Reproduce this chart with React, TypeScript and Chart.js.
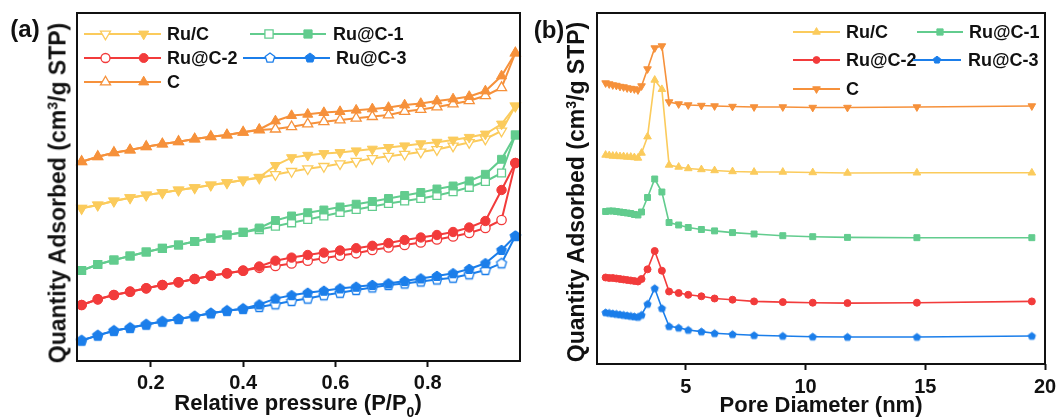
import React, { useEffect, useRef } from 'react';
import { Chart, registerables } from 'chart.js';

Chart.register(...registerables);

// ---------- Panel (a): N2 isotherms ----------
const PRESSURE = [0.05, 0.085, 0.12, 0.155, 0.19, 0.225, 0.26, 0.295, 0.33, 0.365, 0.40, 0.435, 0.47, 0.505, 0.54, 0.575, 0.61, 0.645, 0.68, 0.715, 0.75, 0.785, 0.82, 0.855, 0.89, 0.925, 0.96, 0.99];
const TICKS_A = [0.2, 0.4, 0.6, 0.8];

const C_ADS = [199.3, 204.3, 208.3, 211, 214.3, 217, 219.3, 222, 224.3, 226, 228.7, 231, 231.9, 234.2, 237, 239.3, 241, 242.7, 244.4, 246, 249.5, 251.5, 254, 257, 260.3, 265.3, 273.3, 308];
const C_DES = [199.3, 204.3, 208.3, 211, 214.3, 217, 219.3, 222, 224.3, 226, 228.7, 231.5, 240, 245.4, 246.7, 248.4, 249.4, 250.8, 252.1, 253.5, 256, 257.5, 260, 262, 264.5, 270, 285, 308];
const RUC_ADS = [152.7, 156, 160, 163.3, 166, 168.3, 171, 173.3, 176, 178.3, 181, 183.1, 186.5, 189.6, 192.3, 194.6, 197.3, 199.7, 202.4, 204.8, 206.8, 209, 211.4, 215, 218.5, 222, 230, 255];
const RUC_DES = [152.7, 156, 160, 163.3, 166, 168.3, 171, 173.3, 176, 178.3, 181, 183.8, 195.6, 203.4, 205.8, 207.5, 208.5, 210.2, 211.9, 213.6, 215.2, 217.3, 218.8, 221, 223.7, 227, 237, 255];
const RUC1_ADS = [90.5, 96.5, 101, 105, 109, 112.7, 116, 119.5, 122.8, 126, 128.7, 131.4, 134.8, 138.2, 141.6, 145, 148.5, 151.5, 154.5, 157.5, 160, 162.5, 165.5, 169.3, 173.7, 179.5, 188, 226];
const RUC1_DES = [90.5, 96.5, 101, 105, 109, 112.7, 116, 119.5, 122.8, 126, 128.7, 133, 140.5, 145, 148.3, 151, 154, 156.8, 159.5, 162.5, 165.5, 168.5, 172, 175, 180, 186.7, 201.7, 226];
const RUC2_ADS = [56, 61.7, 66, 69.3, 72.7, 76, 78.7, 82, 85.3, 87.7, 90.3, 93.2, 95, 97.6, 100.3, 102.7, 105.4, 107.7, 111.1, 113.5, 116, 118.5, 121.5, 124.5, 128, 133, 141, 198];
const RUC2_DES = [56, 61.7, 66, 69.3, 72.7, 76, 78.7, 82, 85.3, 87.7, 90.3, 94.5, 100.3, 103.4, 106, 108.4, 110.5, 112.8, 115.2, 117.9, 121, 123.5, 126, 129, 133.5, 140, 171, 198];
const RUC3_ADS = [20.5, 25.6, 30.3, 33.2, 36.5, 39.5, 42, 44.8, 47.8, 50.3, 52.2, 54, 56.7, 60, 62.4, 65.8, 68.2, 71, 73.6, 76, 77.5, 79.5, 81.5, 83.3, 86.7, 91, 97.7, 125];
const RUC3_DES = [20.5, 25.6, 30.3, 33.2, 36.5, 39.5, 42, 44.8, 47.8, 50.3, 52.2, 56.5, 62.4, 65.8, 68.2, 70.2, 72.5, 74.2, 76, 77.6, 80, 82.5, 85, 87.7, 92, 97.7, 111, 125];

// ---------- Panel (b): pore size distribution ----------
const DIAMETER = [1.65, 1.8, 1.95, 2.1, 2.25, 2.4, 2.55, 2.7, 2.85, 3.0, 3.15, 3.4, 3.7, 4.0, 4.3, 4.7, 5.1, 5.65, 6.2, 6.95, 7.85, 9.05, 10.3, 11.75, 14.65, 19.45];
const TICKS_B = [5, 10, 15, 20];

const PSD_C = [281, 280, 279, 278.5, 277.5, 277, 276, 275.5, 275, 274, 278, 295, 316, 318, 262, 260, 259, 258.5, 258, 257.5, 257, 257, 256.5, 256.5, 257, 258];
const PSD_RUC = [209, 208.5, 208, 208, 207.5, 207.5, 207, 207, 206.5, 206, 211, 227.3, 284, 274.7, 199, 197, 195.5, 194.5, 193.5, 192.5, 192, 192, 191.5, 191, 191.2, 191.2];
const PSD_RUC1 = [152.5, 153, 153, 152.5, 152, 151.5, 151, 150.5, 149.5, 149, 152, 166.5, 185, 172, 141.5, 139, 136.5, 134.5, 133.1, 131.4, 130, 128.3, 127.3, 126.6, 126.3, 126.3];
const PSD_RUC2 = [86.5, 86, 86, 85.5, 85, 84.5, 84, 83.5, 83, 82.5, 85, 94.7, 113, 93.3, 72.5, 71, 69.2, 67.7, 65.5, 64.3, 62.6, 61.9, 61.3, 60.9, 61.3, 62.6];
const PSD_RUC3 = [51.5, 51, 50.5, 50, 49.5, 49, 48.5, 48, 47.5, 47, 49, 60, 75.7, 55.7, 37.7, 36.2, 34, 32.4, 30.7, 29.7, 28.7, 28, 27.3, 27, 27, 28];

const ORANGE = '#F6913B';
const YELLOW = '#FBCB5C';
const GREEN = '#62CC8E';
const RED = '#F23B3B';
const BLUE = '#1B7EEA';
const INK = '#111111';
const FONT = '"Liberation Sans", Arial, Helvetica, sans-serif';

function pts(xs: number[], ys: number[]) {
  return xs.map((x, i) => ({ x, y: ys[i] }));
}

function pathMarker(ctx: CanvasRenderingContext2D, style: string, x: number, y: number, r: number, rotDeg: number) {
  ctx.beginPath();
  if (style === 'circle') {
    ctx.arc(x, y, r, 0, Math.PI * 2);
  } else if (style === 'rect') {
    const h = r * Math.SQRT1_2;
    ctx.rect(x - h, y - h, 2 * h, 2 * h);
  } else {
    const n = style === 'pentagon' ? 5 : 3;
    let a = (rotDeg * Math.PI) / 180;
    for (let k = 0; k < n; k++) {
      const px = x + Math.sin(a) * r;
      const py = y - Math.cos(a) * r;
      if (k === 0) ctx.moveTo(px, py);
      else ctx.lineTo(px, py);
      a += (Math.PI * 2) / n;
    }
    ctx.closePath();
  }
}

function drawMarker(ctx: CanvasRenderingContext2D, style: string, x: number, y: number, r: number, fill: string, stroke: string, lw: number, rot: number) {
  pathMarker(ctx, style, x, y, r, rot);
  ctx.fillStyle = fill;
  ctx.fill();
  ctx.strokeStyle = stroke;
  ctx.lineWidth = lw;
  ctx.stroke();
}

function makePentagon(r: number, fill: string, stroke: string, lw: number) {
  const size = Math.ceil(2 * r + lw + 2);
  const c = document.createElement('canvas');
  c.width = size;
  c.height = size;
  const ctx = c.getContext('2d')!;
  drawMarker(ctx, 'pentagon', size / 2, size / 2 + 0.3, r, fill, stroke, lw, 0);
  return c;
}

const framePlugin = {
  id: 'frame',
  afterDatasetsDraw(chart: any) {
    const { ctx, chartArea: a } = chart;
    ctx.save();
    ctx.strokeStyle = INK;
    ctx.lineWidth = 2;
    ctx.strokeRect(a.left, a.top, a.right - a.left, a.bottom - a.top);
    ctx.restore();
  },
};

function legendPlugin(entries: any[], r: number, offsetX: number) {
  return {
    id: 'customLegend',
    afterDraw(chart: any) {
      const ctx: CanvasRenderingContext2D = chart.ctx;
      ctx.save();
      entries.forEach((e) => {
        ctx.strokeStyle = e.color;
        ctx.lineWidth = 1.8;
        ctx.beginPath();
        ctx.moveTo(e.x0 - offsetX, e.y);
        ctx.lineTo(e.x1 - offsetX, e.y);
        ctx.stroke();
        if (e.open !== undefined) {
          drawMarker(ctx, e.style, e.open - offsetX, e.y, e.r ?? r, '#ffffff', e.color, 1.3, e.rot || 0);
        }
        drawMarker(ctx, e.style, e.filled - offsetX, e.y, e.r ?? r, e.color, e.color, 1, e.rot || 0);
        ctx.fillStyle = INK;
        ctx.font = `bold 18px ${FONT}`;
        ctx.textBaseline = 'middle';
        ctx.textAlign = 'left';
        ctx.fillText(e.label, e.tx - offsetX, e.y + 1);
      });
      ctx.restore();
    },
  };
}

const LEGEND_A = [
  { label: 'Ru/C', color: YELLOW, style: 'triangle', rot: 180, y: 34, x0: 84, x1: 161, open: 105.5, filled: 143.7, tx: 167 },
  { label: 'Ru@C-1', color: GREEN, style: 'rect', rot: 0, y: 34, x0: 250, x1: 326, open: 269, filled: 308, tx: 333 },
  { label: 'Ru@C-2', color: RED, style: 'circle', rot: 0, y: 58, x0: 84, x1: 161, open: 105.5, filled: 143.7, tx: 167, r: 4.5 },
  { label: 'Ru@C-3', color: BLUE, style: 'pentagon', rot: 0, y: 58, x0: 243, x1: 330, open: 270, filled: 310, tx: 336, r: 5 },
  { label: 'C', color: ORANGE, style: 'triangle', rot: 0, y: 82, x0: 84, x1: 161, open: 105.5, filled: 143.7, tx: 167 },
];

const LEGEND_B = [
  { label: 'Ru/C', color: YELLOW, style: 'triangle', rot: 0, y: 32, x0: 793, x1: 840, filled: 816.5, tx: 846 },
  { label: 'Ru@C-1', color: GREEN, style: 'rect', rot: 0, y: 32, x0: 917, x1: 963, filled: 940, tx: 969 },
  { label: 'Ru@C-2', color: RED, style: 'circle', rot: 0, y: 60, x0: 793, x1: 840, filled: 816.5, tx: 846, r: 3.4 },
  { label: 'Ru@C-3', color: BLUE, style: 'pentagon', rot: 0, y: 60, x0: 913, x1: 961, filled: 937, tx: 968, r: 3.8 },
  { label: 'C', color: ORANGE, style: 'triangle', rot: 180, y: 89, x0: 793, x1: 840, filled: 816.5, tx: 846 },
];

const xTickFont = { family: FONT, size: 20, weight: 'bold' as const };

export default function App() {
  const refA = useRef<HTMLCanvasElement>(null);
  const refB = useRef<HTMLCanvasElement>(null);

  useEffect(() => {
    Chart.defaults.font.family = FONT;
    const pentFilledA = makePentagon(5.2, BLUE, BLUE, 1);
    const pentOpenA = makePentagon(5.2, '#ffffff', BLUE, 1.3);
    const pentFilledB = makePentagon(3.8, BLUE, BLUE, 1);

    const seriesA = [
      { color: YELLOW, style: 'triangle', rot: 180, r: 5.8, ads: RUC_ADS, des: RUC_DES },
      { color: GREEN, style: 'rect', rot: 0, r: 5.6, ads: RUC1_ADS, des: RUC1_DES },
      { color: RED, style: 'circle', rot: 0, r: 4.7, ads: RUC2_ADS, des: RUC2_DES },
      { color: BLUE, style: 'pentagon', rot: 0, r: 5.2, ads: RUC3_ADS, des: RUC3_DES },
      { color: ORANGE, style: 'triangle', rot: 0, r: 5.8, ads: C_ADS, des: C_DES },
    ];

    const dsA: any[] = [];
    seriesA.forEach((s) => {
      dsA.push({
        data: pts(PRESSURE, s.des),
        borderColor: s.color,
        borderWidth: 2,
        pointStyle: s.style === 'pentagon' ? pentFilledA : s.style,
        pointRotation: s.rot,
        pointRadius: s.r,
        pointBackgroundColor: s.color,
        pointBorderColor: s.color,
        pointBorderWidth: 1,
        tension: 0,
        clip: false,
      });
    });
    seriesA.forEach((s) => {
      dsA.push({
        data: pts(PRESSURE, s.ads),
        borderColor: s.color,
        borderWidth: 2,
        pointStyle: s.style === 'pentagon' ? pentOpenA : s.style,
        pointRotation: s.rot,
        pointRadius: s.r,
        pointBackgroundColor: '#ffffff',
        pointBorderColor: s.color,
        pointBorderWidth: 1.3,
        tension: 0,
        clip: false,
      });
    });

    const chartA = new Chart(refA.current!, {
      type: 'line',
      data: { datasets: dsA },
      options: {
        responsive: false,
        animation: false,
        devicePixelRatio: 1,
        layout: { padding: { left: 0, right: 20, top: 13, bottom: 0 } },
        plugins: { legend: { display: false }, tooltip: { enabled: false } },
        scales: {
          x: {
            type: 'linear',
            min: 0.04,
            max: 1.0,
            afterBuildTicks: (s: any) => {
              s.ticks = TICKS_A.map((v) => ({ value: v }));
            },
            afterFit: (s: any) => {
              s.height = 57;
            },
            grid: { display: true, drawOnChartArea: false, drawTicks: true, tickLength: 6, tickWidth: 2, tickColor: INK },
            border: { display: false },
            ticks: { font: xTickFont, color: INK, padding: 4, maxRotation: 0, callback: (v: any) => Number(v).toFixed(1) },
          },
          y: {
            type: 'linear',
            min: 0,
            max: 348,
            afterFit: (s: any) => {
              s.width = 77;
            },
            grid: { display: false },
            border: { display: false },
            ticks: { display: false },
          },
        },
      } as any,
      plugins: [framePlugin, legendPlugin(LEGEND_A, 5.8, 0)],
    });

    const seriesB = [
      { color: ORANGE, style: 'triangle', rot: 180, r: 4.4, data: PSD_C },
      { color: YELLOW, style: 'triangle', rot: 0, r: 4.4, data: PSD_RUC },
      { color: GREEN, style: 'rect', rot: 0, r: 4.2, data: PSD_RUC1 },
      { color: RED, style: 'circle', rot: 0, r: 3.5, data: PSD_RUC2 },
      { color: BLUE, style: 'pentagon', rot: 0, r: 3.8, data: PSD_RUC3 },
    ];

    const chartB = new Chart(refB.current!, {
      type: 'line',
      data: {
        datasets: seriesB.map((s) => ({
          data: pts(DIAMETER, s.data),
          borderColor: s.color,
          borderWidth: 1.6,
          pointStyle: s.style === 'pentagon' ? pentFilledB : s.style,
          pointRotation: s.rot,
          pointRadius: s.r,
          pointBackgroundColor: s.color,
          pointBorderColor: s.color,
          pointBorderWidth: 1,
          tension: 0,
          clip: false,
        })),
      },
      options: {
        responsive: false,
        animation: false,
        devicePixelRatio: 1,
        layout: { padding: { left: 0, right: 17, top: 13, bottom: 0 } },
        plugins: { legend: { display: false }, tooltip: { enabled: false } },
        scales: {
          x: {
            type: 'linear',
            min: 1.29,
            max: 20,
            afterBuildTicks: (s: any) => {
              s.ticks = TICKS_B.map((v) => ({ value: v }));
            },
            afterFit: (s: any) => {
              s.height = 54;
            },
            grid: { display: true, drawOnChartArea: false, drawTicks: true, tickLength: 6, tickWidth: 2, tickColor: INK },
            border: { display: false },
            ticks: { font: xTickFont, color: INK, padding: 5, maxRotation: 0, callback: (v: any) => String(v) },
          },
          y: {
            type: 'linear',
            min: 0,
            max: 351,
            afterFit: (s: any) => {
              s.width = 57;
            },
            grid: { display: false },
            border: { display: false },
            ticks: { display: false },
          },
        },
      } as any,
      plugins: [framePlugin, legendPlugin(LEGEND_B, 4.4, 540)],
    });

    return () => {
      chartA.destroy();
      chartB.destroy();
    };
  }, []);

  const centered = (cx: number, cy: number, extra: React.CSSProperties = {}): React.CSSProperties => ({
    position: 'absolute',
    left: cx,
    top: cy,
    transform: 'translate(-50%, -50%)',
    whiteSpace: 'nowrap',
    lineHeight: 1,
    fontWeight: 'bold',
    fontSize: 22,
    ...extra,
  });

  const yTitle = (
    <>
      Quantity Adsorbed (cm
      <span style={{ fontSize: 14, position: 'relative', top: -8 }}>3</span>
      /g STP)
    </>
  );

  return (
    <div
      style={{
        position: 'absolute',
        left: 0,
        top: 0,
        width: 1062,
        height: 418,
        background: '#ffffff',
        fontFamily: FONT,
        color: INK,
        overflow: 'hidden',
      }}
    >
      <canvas ref={refA} width={540} height={418} style={{ position: 'absolute', left: 0, top: 0 }} />
      <canvas ref={refB} width={522} height={418} style={{ position: 'absolute', left: 540, top: 0 }} />
      <div style={centered(25, 28.5, { fontSize: 24 })}>(a)</div>
      <div style={centered(549, 30, { fontSize: 24 })}>(b)</div>
      <div style={centered(58, 192.5, { fontSize: 23, transform: 'translate(-50%, -50%) rotate(-90deg)' })}>{yTitle}</div>
      <div style={centered(576, 192, { fontSize: 23, transform: 'translate(-50%, -50%) rotate(-90deg)' })}>{yTitle}</div>
      <div style={centered(298, 403)}>
        Relative pressure (P/P
        <span style={{ fontSize: 14, position: 'relative', top: 7 }}>0</span>)
      </div>
      <div style={centered(821, 405)}>Pore Diameter (nm)</div>
    </div>
  );
}
